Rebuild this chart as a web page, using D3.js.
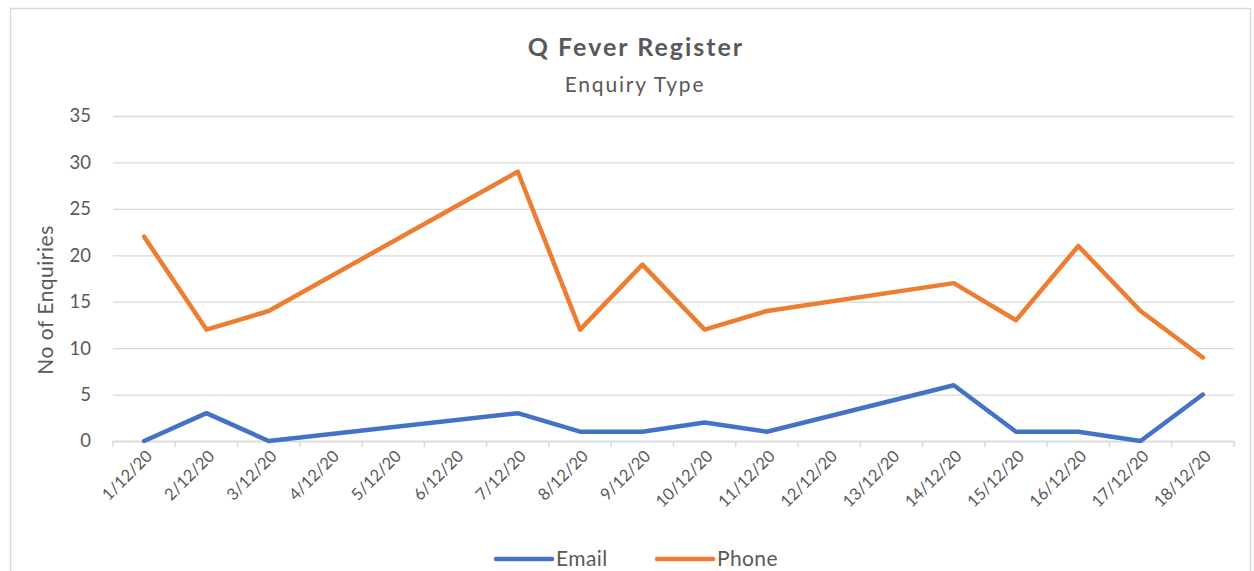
<!DOCTYPE html>
<html>
<head>
<meta charset="utf-8">
<script src="https://cdn.jsdelivr.net/npm/d3@7"></script>
<style>
  body { margin: 0; background: #fff; }
  svg text { font-family: Lato, "Liberation Sans", sans-serif; fill: #595959; }
</style>
</head>
<body>
<div id="chart"></div>
<script>
// ---
// Data
// ---
const dates = ['1/12/20', '2/12/20', '3/12/20', '4/12/20', '5/12/20', '6/12/20', '7/12/20', '8/12/20', '9/12/20',
  '10/12/20', '11/12/20', '12/12/20', '13/12/20', '14/12/20', '15/12/20', '16/12/20', '17/12/20', '18/12/20']
// null = no entry for that day, the line just joins the neighbours
const email = [0, 3, 0, null, null, null, 3, 1, 1, 2, 1, null, null, 6, 1, 1, 0, 5]
const phone = [22, 12, 14, null, null, null, 29, 12, 19, 12, 14, null, null, 17, 13, 21, 14, 9]
const yTicks = [0, 5, 10, 15, 20, 25, 30, 35]

const series = [
  { name: 'Email', values: email, color: '#4472C4' },
  { name: 'Phone', values: phone, color: '#ED7D31' }
]

const W = 1254
const H = 571
const margin = { top: 116, left: 113 }
const width = 1234 - margin.left
const height = 441 - margin.top

const svg = d3.select('#chart').append('svg')
  .attr('width', W)
  .attr('height', H)

// chart border
svg.append('rect')
  .attr('x', 10.5).attr('y', 8.5)
  .attr('width', 1240).attr('height', 600)
  .attr('fill', 'none')
  .attr('stroke', '#d9d9d9')
  .attr('stroke-width', 1.5)

// Titles
svg.append('text')
  .attr('x', 636).attr('y', 56)
  .attr('text-anchor', 'middle')
  .style('font-size', '25px').style('font-weight', 'bold')
  .style('letter-spacing', '2px')
  .text('Q Fever Register')

svg.append('text')
  .attr('x', 635).attr('y', 92)
  .attr('text-anchor', 'middle')
  .style('font-size', '21px')
  .style('letter-spacing', '1.8px')
  .text('Enquiry Type')

const g = svg.append('g')
  .attr('transform', `translate(${margin.left}, ${margin.top})`)

// Scales
const x = d3.scaleBand()
  .domain(dates)
  .range([0, width])

const y = d3.scaleLinear()
  .domain([0, 35])
  .range([height, 0])

// Grid + y axis
const yAxis = d3.axisLeft(y)
  .tickValues(yTicks)
  .tickSize(-width)
  .tickPadding(22)

g.append('g')
  .call(yAxis)
  .call(s => s.select('.domain').remove())
  .call(s => s.selectAll('line').attr('stroke', '#d9d9d9').attr('stroke-width', 1.3))
  .call(s => s.selectAll('text').style('font-size', '18.5px').attr('fill', '#595959'))

// x axis
const xAxis = d3.axisBottom(x)
  .tickSizeOuter(0)
  .tickSize(0)

const xg = g.append('g')
  .attr('transform', `translate(0, ${height})`)
  .call(xAxis)

xg.select('.domain').attr('stroke', '#d9d9d9').attr('stroke-width', 1.5)

// category boundary ticks
xg.selectAll('.bound')
  .data(d3.range(dates.length + 1))
  .enter().append('line')
  .attr('class', 'bound')
  .attr('x1', i => i * x.bandwidth())
  .attr('x2', i => i * x.bandwidth())
  .attr('y1', 0).attr('y2', 6)
  .attr('stroke', '#d9d9d9')
  .attr('stroke-width', 1.5)

xg.selectAll('.tick text')
  .style('font-size', '16.5px')
  .attr('fill', '#595959')
  .attr('text-anchor', 'end')
  .attr('dy', 0)
  .attr('transform', 'translate(7, 14) rotate(-45)')

// Lines
const line = d3.line()
  .x(d => x(d.date) + x.bandwidth() / 2)
  .y(d => y(d.v))

series.forEach(s => {
  const pts = dates.map((d, i) => ({ date: d, v: s.values[i] })).filter(p => p.v !== null)
  g.append('path')
    .datum(pts)
    .attr('fill', 'none')
    .attr('stroke', s.color)
    .attr('stroke-width', 4.5)
    .attr('stroke-linejoin', 'round')
    .attr('stroke-linecap', 'round')
    .attr('d', line)
})

// Y label
svg.append('text')
  .attr('transform', 'translate(53, 300) rotate(-90)')
  .attr('text-anchor', 'middle')
  .style('font-size', '21px')
  .style('letter-spacing', '0.5px')
  .text('No of Enquiries')

// Legend
const legend = svg.append('g')
  .attr('transform', 'translate(496, 559)')

const item = legend.selectAll('g')
  .data(series)
  .enter().append('g')
  .attr('transform', (d, i) => `translate(${i * 161}, 0)`)

item.append('line')
  .attr('x1', 0).attr('x2', 56)
  .attr('stroke', d => d.color)
  .attr('stroke-width', 4.5)
  .attr('stroke-linecap', 'round')

item.append('text')
  .attr('x', 60)
  .attr('dy', '0.35em')
  .style('font-size', '21px')
  .style('letter-spacing', '0.4px')
  .text(d => d.name)
</script>
</body>
</html>
